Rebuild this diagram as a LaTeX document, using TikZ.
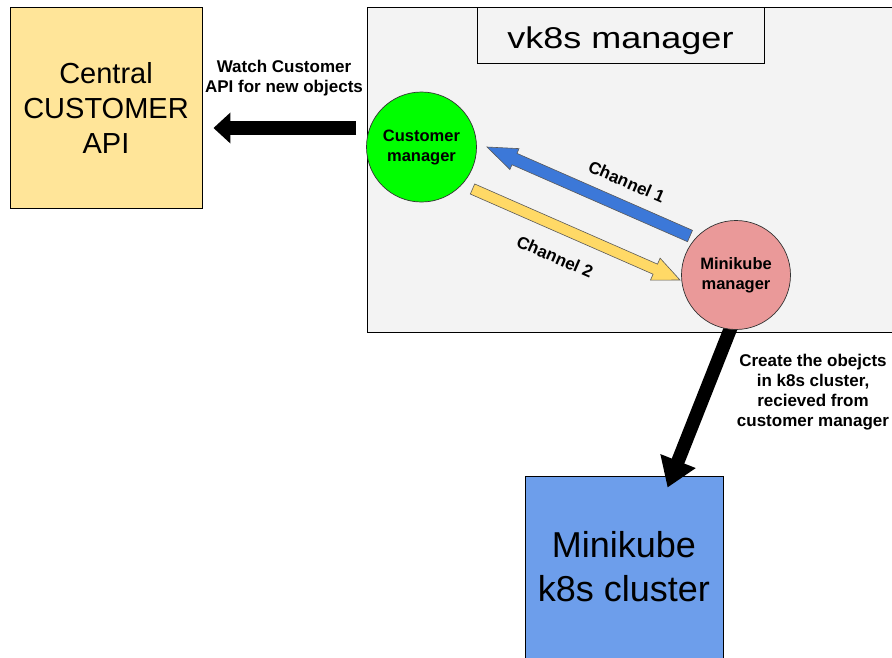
\documentclass[tikz,border=0pt]{standalone}
\usepackage{fontspec}
\setmainfont{Liberation Sans}
\newfontfamily\titlefont[FakeStretch=1.2]{Liberation Sans}
\usetikzlibrary{calc,arrows.meta}
\definecolor{apiyellow}{HTML}{FFE599}
\definecolor{panelgray}{HTML}{F3F3F3}
\definecolor{cmgreen}{HTML}{00FF00}
\definecolor{mmpink}{HTML}{EA9999}
\definecolor{chblue}{HTML}{3C78D8}
\definecolor{chyellow}{HTML}{FFD966}
\definecolor{k8sblue}{HTML}{6D9EEB}
\definecolor{edgegray}{HTML}{333333}
\pgfdeclarelayer{back}
\pgfdeclarelayer{mid}
\pgfsetlayers{back,mid,main}
\tikzset{
  boxnode/.style={draw=black, line width=0.9pt, inner sep=0pt, align=center},
  mgrcircle/.style={circle, draw=edgegray, line width=0.7pt, minimum size=110pt, inner sep=0pt, align=center, font=\fontsize{16.5}{20}\selectfont\bfseries},
  biglabel/.style={font=\fontsize{17}{20}\selectfont\bfseries, align=center, inner sep=0pt},
  fatarrow/.style={line width=14pt, draw=black},
  chanstyle/.style={draw=black!65, line width=0.6pt},
}
% #1 style, #2 tail, #3 tip, #4 half shaft, #5 head length, #6 half head
\newcommand{\chanarrow}[6]{%
  \coordinate (hb) at ($(#3)!#5!(#2)$);
  \filldraw[#1] ($(#2)!#4!90:(#3)$) -- ($(hb)!#4!-90:(#2)$) -- ($(hb)!#6!-90:(#2)$) -- (#3) -- ($(hb)!#6!90:(#2)$) -- ($(hb)!#4!90:(#2)$) -- ($(#2)!#4!-90:(#3)$) -- cycle;
}
\begin{document}
\begin{tikzpicture}[x=1pt,y=-1pt]
\useasboundingbox (0,0) rectangle (892,657);
\begin{pgfonlayer}{back}
  \node[boxnode, fill=panelgray, minimum width=528pt, minimum height=325pt] (panel) at (631,169.5) {};
  \node[boxnode, fill=k8sblue, minimum width=198pt, minimum height=182pt, font=\fontsize{36}{44}\selectfont] (k8s) at (624,567) {Minikube\\k8s cluster};
\end{pgfonlayer}
\node[boxnode, fill=apiyellow, minimum width=192pt, minimum height=201pt, font=\fontsize{29}{35}\selectfont] (api) at (106,107.5) {Central\\CUSTOMER\\API};
\node[boxnode, fill=panelgray, minimum width=287pt, minimum height=56pt, font=\titlefont\fontsize{30}{36}\selectfont, text height=26pt, text depth=0pt] (title) at (620.5,35) {vk8s manager};
\node[mgrcircle, fill=cmgreen] (cm) at (421.5,147) {Customer\\manager};
\node[mgrcircle, fill=mmpink, minimum size=109pt] (mm) at (736,275) {Minikube\\manager};
\node[biglabel] (watchlbl) at (284,77.6) {Watch Customer\\API for new objects};
\node[biglabel] (createlbl) at (813,392.3) {Create the obejcts\\in k8s cluster,\\recieved from\\customer manager};
\node[biglabel, rotate=-23.5] (ch1lbl) at (626.7,181.7) {Channel 1};
\node[biglabel, rotate=-23.5] (ch2lbl) at (555,256.7) {Channel 2};
\begin{pgfonlayer}{mid}
  \coordinate (wstart) at (356,128);
  \draw[fatarrow, -{Triangle[length=17pt,width=30pt]}, shorten >=11pt] (wstart) -- (api.east |- wstart);
  \coordinate (kstart) at ($(mm.center)+(-4.2,50.3)$);
  \coordinate (ktip) at ($(k8s.north west)+(143,12)$);
  \draw[fatarrow, line width=13.5pt, -{Triangle[length=28.5pt,width=36pt]}] (kstart) -- (ktip);
  \coordinate (c1tail) at ($(mm.center)+(-46,-39)$);
  \coordinate (c1tip) at ($(cm.center)+(65.5,0)$);
  \chanarrow{chanstyle, fill=chblue}{c1tail}{c1tip}{6.2pt}{30pt}{11.4pt}
  \coordinate (c2tail) at ($(cm.center)+(51,42)$);
  \coordinate (c2tip) at ($(mm.center)+(-56,5)$);
  \chanarrow{chanstyle, fill=chyellow}{c2tail}{c2tip}{5.5pt}{27pt}{12pt}
\end{pgfonlayer}
\end{tikzpicture}
\end{document}
